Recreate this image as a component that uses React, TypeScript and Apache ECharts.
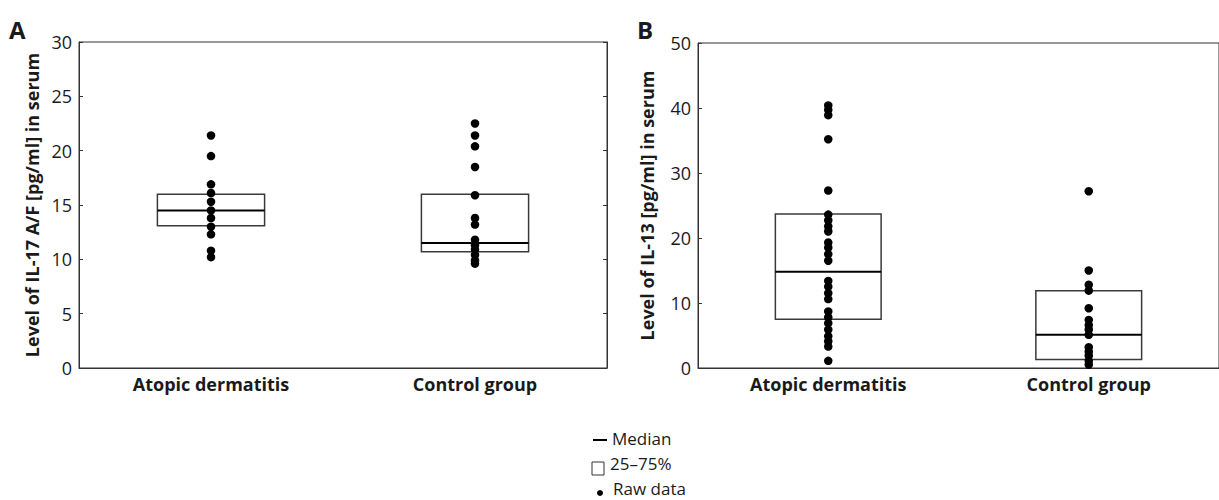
import React, { useEffect, useRef } from "react";
import * as echarts from "echarts";

const categories = ["Atopic dermatitis", "Control group"];

// Panel A: IL-17 A/F [pg/ml]
const il17Atopic = [21.4, 19.5, 16.9, 16.1, 15.3, 14.5, 13.8, 13.0, 12.3, 10.8, 10.2];
const il17Control = [22.5, 21.4, 20.4, 18.5, 15.9, 13.8, 13.2, 11.8, 11.3, 10.9, 10.4, 9.9, 9.6];
// [q1, median, q3]
const il17AtopicBox = [13.1, 14.5, 16.0];
const il17ControlBox = [10.7, 11.5, 16.0];

// Panel B: IL-13 [pg/ml]
const il13Atopic = [40.4, 39.7, 38.9, 35.2, 27.3, 23.6, 22.7, 21.8, 21.0, 19.3, 18.5, 17.5, 16.5, 13.4, 12.5, 11.5, 10.6, 8.7, 7.8, 6.9, 5.9, 4.9, 4.1, 3.3, 1.1];
const il13Control = [27.2, 15.0, 12.8, 11.9, 9.2, 7.4, 6.6, 5.9, 5.1, 3.2, 2.5, 1.9, 1.1, 0.5];
const il13AtopicBox = [7.5, 14.8, 23.7];
const il13ControlBox = [1.3, 5.1, 11.9];

const FONT = "'Open Sans', sans-serif";
const TXT = "#1a1a1a";
const LINE = "#333";

const toPoints = (cat: number, vals: number[]) => vals.map((v) => [cat, v]);

const renderBox = (params: any, api: any) => {
  const x = api.value(0);
  const q1 = api.value(1);
  const med = api.value(2);
  const q3 = api.value(3);
  const pLow = api.coord([x, q1]);
  const pHigh = api.coord([x, q3]);
  const pMed = api.coord([x, med]);
  const half = api.size([1, 0])[0] * 0.203;
  return {
    type: "group",
    children: [
      {
        type: "rect",
        shape: { x: pLow[0] - half, y: pHigh[1], width: half * 2, height: pLow[1] - pHigh[1] },
        style: { fill: "none", stroke: "#3a3a3a", lineWidth: 1.5 },
      },
      {
        type: "line",
        shape: { x1: pMed[0] - half, y1: pMed[1], x2: pMed[0] + half, y2: pMed[1] },
        style: { stroke: "#000", lineWidth: 2 },
      },
    ],
  };
};

export default function App() {
  const ref = useRef<HTMLDivElement>(null);
  useEffect(() => {
    document.body.style.margin = "0";
    if (!ref.current) return;
    const chart = echarts.init(ref.current, undefined, { renderer: "svg" });

    const xAxisBase = (gridIndex: number) => ({
      type: "category",
      gridIndex,
      data: categories,
      axisLine: { lineStyle: { color: LINE, width: 1 } },
      axisTick: { inside: true, alignWithLabel: true, length: 4, lineStyle: { color: LINE } },
      axisLabel: { color: TXT, fontFamily: FONT, fontSize: 18, fontWeight: "bold", margin: 7 },
      splitLine: { show: false },
    });

    const yAxisBase = (gridIndex: number, max: number, interval: number, name: string, nameGap: number) => ({
      type: "value",
      gridIndex,
      min: 0,
      max,
      interval,
      name,
      nameLocation: "middle",
      nameGap,
      nameTextStyle: { color: TXT, fontFamily: FONT, fontSize: 18, fontWeight: "bold" },
      axisLine: { show: true, lineStyle: { color: LINE, width: 1 } },
      axisTick: { show: true, inside: true, length: 4, lineStyle: { color: LINE } },
      axisLabel: { color: TXT, fontFamily: FONT, fontSize: 18, margin: 7 },
      splitLine: { show: false },
    });

    const scatterStyle = {
      type: "scatter",
      symbol: "circle",
      symbolSize: 8.5,
      itemStyle: { color: "#000", opacity: 1 },
      z: 5,
    };

    chart.setOption({
      animation: false,
      grid: [
        { left: 79, top: 42, width: 528, height: 326, show: true, borderColor: LINE, borderWidth: 1 },
        { left: 698, top: 43, width: 532, height: 325, show: true, borderColor: LINE, borderWidth: 1 },
      ],
      xAxis: [xAxisBase(0), xAxisBase(1)],
      yAxis: [
        yAxisBase(0, 30, 5, "Level of IL-17 A/F [pg/ml] in serum", 38),
        {
          type: "value",
          gridIndex: 0,
          position: "right",
          min: 0,
          max: 30,
          interval: 5,
          axisLine: { show: true, lineStyle: { color: LINE, width: 1 } },
          axisTick: { show: true, inside: true, length: 4, lineStyle: { color: LINE } },
          axisLabel: { show: false },
          splitLine: { show: false },
        },
        yAxisBase(1, 50, 10, "Level of IL-13 [pg/ml] in serum", 42),
      ],
      series: [
        {
          type: "custom",
          xAxisIndex: 0,
          yAxisIndex: 0,
          renderItem: renderBox,
          encode: { x: 0, y: [1, 2, 3] },
          data: [
            [0, ...il17AtopicBox],
            [1, ...il17ControlBox],
          ],
          z: 2,
        },
        { ...scatterStyle, xAxisIndex: 0, yAxisIndex: 0, data: toPoints(0, il17Atopic) },
        { ...scatterStyle, xAxisIndex: 0, yAxisIndex: 0, data: toPoints(1, il17Control) },
        {
          type: "custom",
          xAxisIndex: 1,
          yAxisIndex: 2,
          renderItem: renderBox,
          encode: { x: 0, y: [1, 2, 3] },
          data: [
            [0, ...il13AtopicBox],
            [1, ...il13ControlBox],
          ],
          z: 2,
        },
        { ...scatterStyle, xAxisIndex: 1, yAxisIndex: 2, data: toPoints(0, il13Atopic) },
        { ...scatterStyle, xAxisIndex: 1, yAxisIndex: 2, data: toPoints(1, il13Control) },
      ],
      graphic: [
        { type: "text", left: 9, top: 17, style: { text: "A", font: `bold 24px ${FONT}`, fill: TXT } },
        { type: "text", left: 637, top: 17, style: { text: "B", font: `bold 24px ${FONT}`, fill: TXT } },
        // legend
        { type: "line", shape: { x1: 593, y1: 440, x2: 607, y2: 440 }, style: { stroke: "#000", lineWidth: 2 } },
        { type: "text", x: 612, y: 438, style: { text: "Median", font: `17px ${FONT}`, fill: TXT, verticalAlign: "middle" } },
        { type: "rect", shape: { x: 592, y: 462, width: 12, height: 13 }, style: { fill: "none", stroke: "#333", lineWidth: 1 } },
        { type: "text", x: 610, y: 463, style: { text: "25–75%", font: `17px ${FONT}`, fill: TXT, verticalAlign: "middle" } },
        { type: "circle", shape: { cx: 600, cy: 493, r: 3 }, style: { fill: "#000" } },
        { type: "text", x: 613, y: 488, style: { text: "Raw data", font: `17px ${FONT}`, fill: TXT, verticalAlign: "middle" } },
      ],
    });
    return () => chart.dispose();
  }, []);
  return <div ref={ref} style={{ width: 1219, height: 500 }} />;
}
